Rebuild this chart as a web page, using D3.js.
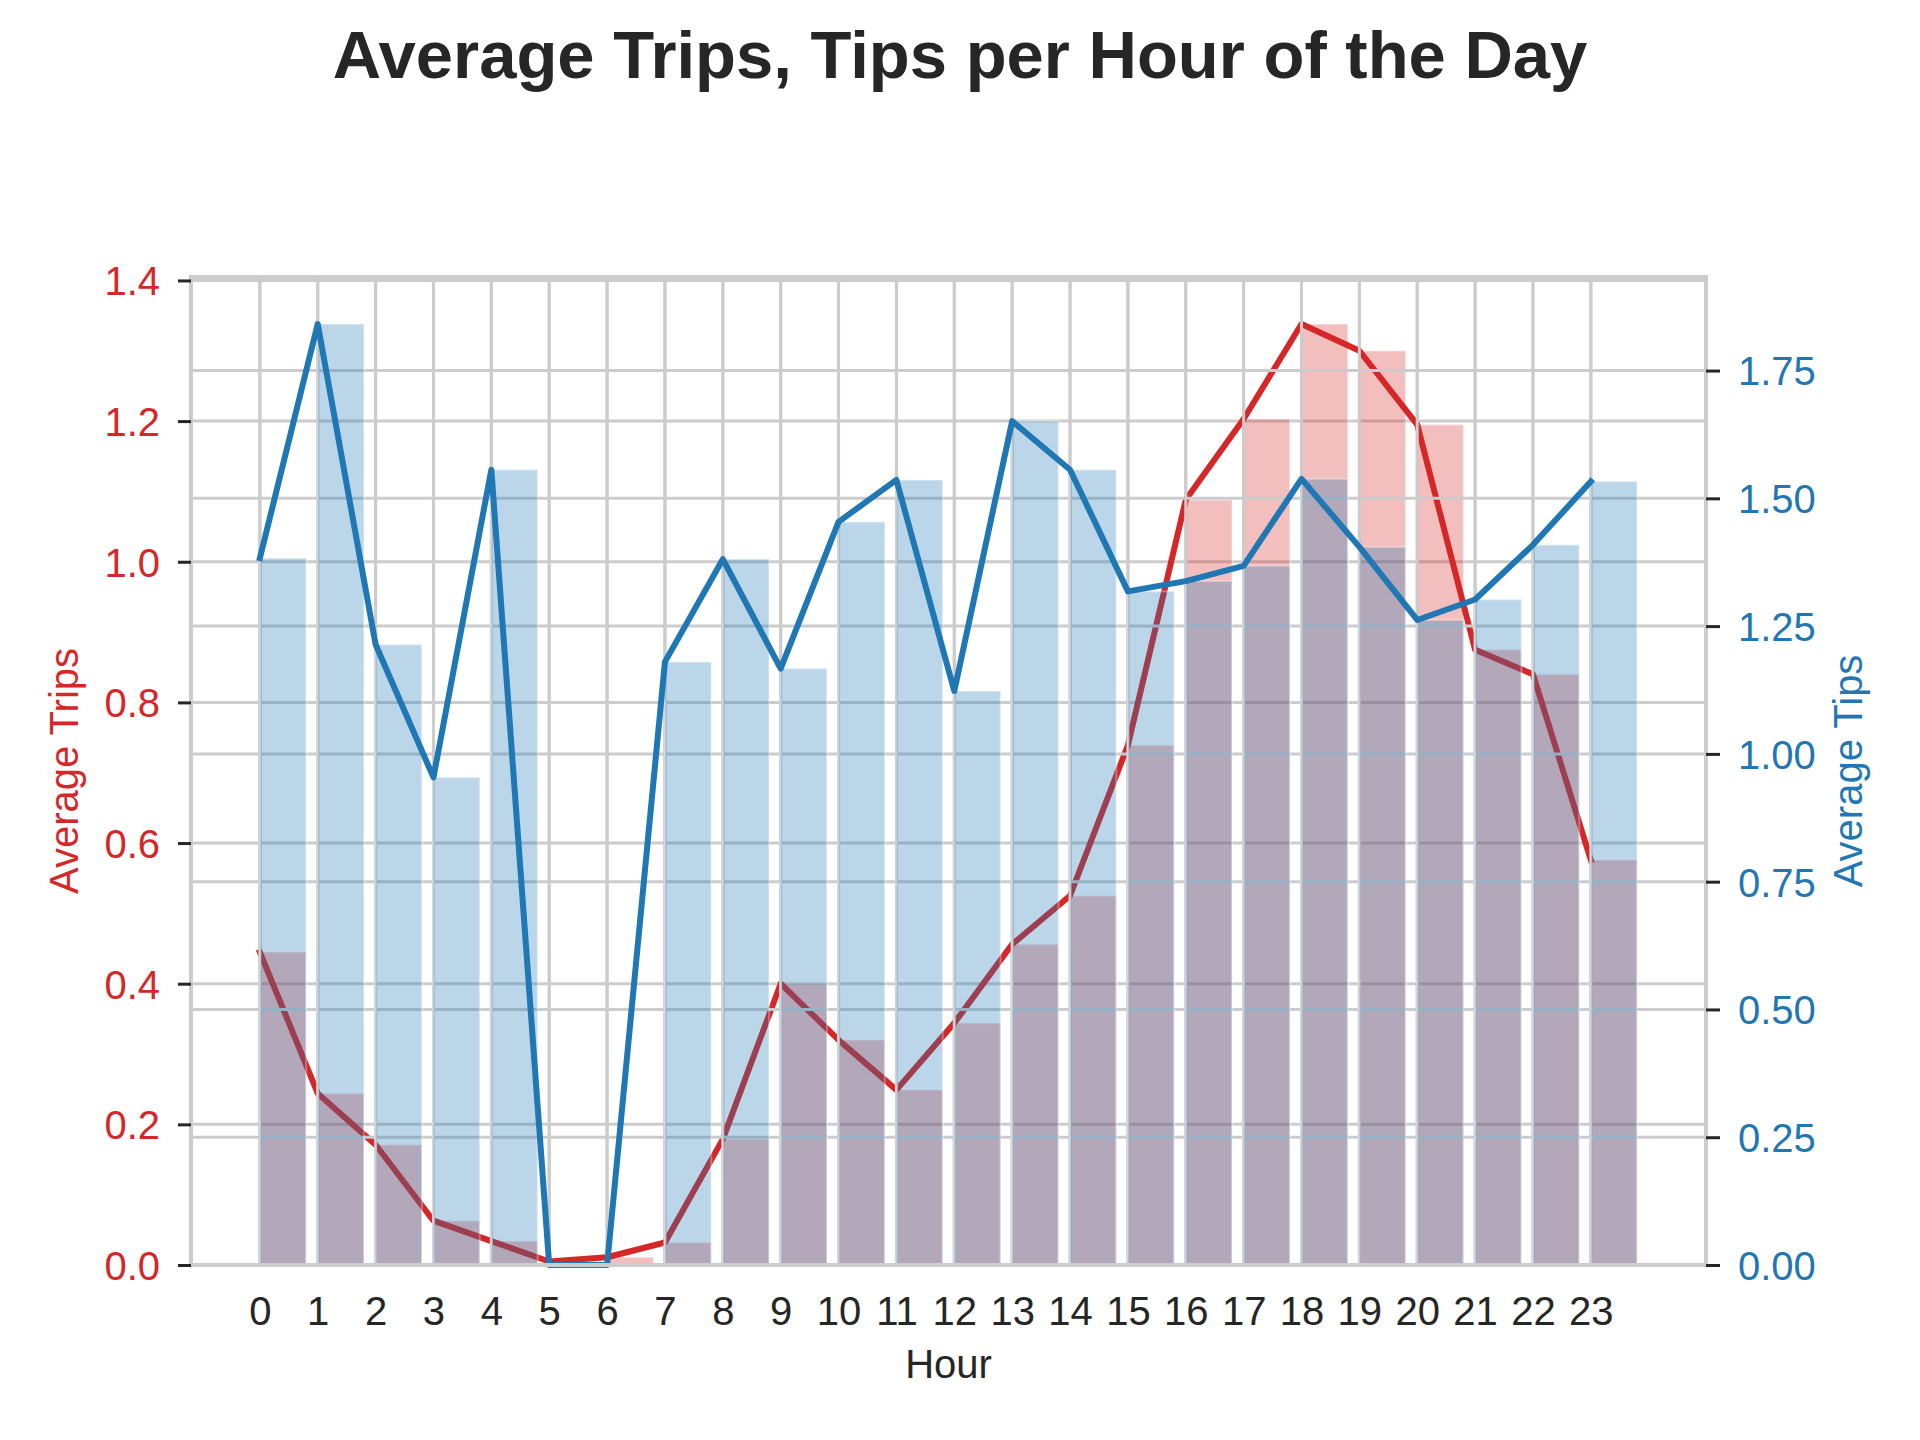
<!DOCTYPE html>
<html>
<head>
<meta charset="utf-8">
<title>Average Trips, Tips per Hour of the Day</title>
<script src="https://cdn.jsdelivr.net/npm/d3@7"></script>
<style>
    body { margin: 0; background: #fff; }
    svg { display: block; }
    text { font-family: "Liberation Sans", Arial, sans-serif; }
</style>
</head>
<body>
<svg id="drawing_region"></svg>
<script>
// hour of the day
const hours = [0, 1, 2, 3, 4, 5, 6, 7, 8, 9, 10, 11, 12, 13, 14, 15, 16, 17, 18, 19, 20, 21, 22, 23];

// average trips per hour (left axis)
const trips = [0.445, 0.244, 0.171, 0.063, 0.034, 0.005, 0.011, 0.032, 0.179, 0.400, 0.320, 0.249,
               0.344, 0.456, 0.525, 0.739, 1.088, 1.203, 1.338, 1.300, 1.195, 0.875, 0.840, 0.576];

// average tips per hour (right axis)
const tips = [1.383, 1.841, 1.214, 0.954, 1.556, 0, 0, 1.180, 1.381, 1.167, 1.454, 1.536,
              1.123, 1.651, 1.556, 1.318, 1.338, 1.368, 1.538, 1.405, 1.262, 1.302, 1.409, 1.533];

// tick labels
const tripTicks = [0.0, 0.2, 0.4, 0.6, 0.8, 1.0, 1.2, 1.4];
const tipTicks = [0.00, 0.25, 0.50, 0.75, 1.00, 1.25, 1.50, 1.75];

var config = {
    parent: '#drawing_region',
    width: 1920,
    height: 1440,
    margin: { left: 191, right: 214, top: 277, bottom: 175 },
    barWidth: 0.8,
};

class DualAxisChart {

    constructor( config ) {
        this.config = config;
        this.init();
    }

    init() {
        let self = this;
        const m = self.config.margin;

        self.inner_width = self.config.width - m.left - m.right;
        self.inner_height = self.config.height - m.top - m.bottom;

        self.svg = d3.select(self.config.parent)
            .attr('width', self.config.width)
            .attr('height', self.config.height);

        self.svg.append('rect')
            .attr('width', self.config.width)
            .attr('height', self.config.height)
            .attr('fill', '#fff');

        self.chart = self.svg.append('g')
            .attr('transform', `translate(${m.left}, ${m.top})`);

        // bars sit on the right of each tick (align='edge'), 5% margins like matplotlib
        const xmin = d3.min(hours), xmax = d3.max(hours) + self.config.barWidth;
        const pad = (xmax - xmin) * 0.05;
        self.xscale = d3.scaleLinear()
            .domain([xmin - pad, xmax + pad])
            .range([0, self.inner_width]);

        self.yleft = d3.scaleLinear()
            .domain([0, d3.max(trips) * 1.05])
            .range([self.inner_height, 0]);

        self.yright = d3.scaleLinear()
            .domain([0, d3.max(tips) * 1.05])
            .range([self.inner_height, 0]);
    }

    grid( g, yscale, yticks ) {
        let self = this;
        g.selectAll('.vgrid')
            .data(hours)
            .join('line')
            .attr('x1', d => self.xscale(d))
            .attr('x2', d => self.xscale(d))
            .attr('y1', 0)
            .attr('y2', self.inner_height)
            .attr('stroke', '#cccccc')
            .attr('stroke-width', 3);
        g.selectAll('.hgrid')
            .data(yticks)
            .join('line')
            .attr('x1', 0)
            .attr('x2', self.inner_width)
            .attr('y1', d => yscale(d))
            .attr('y2', d => yscale(d))
            .attr('stroke', '#cccccc')
            .attr('stroke-width', 3);
    }

    layer( g, values, yscale, color ) {
        let self = this;
        const bw = self.xscale(self.config.barWidth) - self.xscale(0);

        g.selectAll('rect')
            .data(values)
            .join('rect')
            .attr('x', (d, i) => self.xscale(hours[i]))
            .attr('y', d => yscale(d))
            .attr('width', bw)
            .attr('height', d => self.inner_height - yscale(d))
            .attr('fill', color)
            .attr('fill-opacity', 0.3)
            .attr('stroke', '#fff')
            .attr('stroke-opacity', 0.3)
            .attr('stroke-width', 2);

        const line = d3.line()
            .x((d, i) => self.xscale(hours[i]))
            .y(d => yscale(d));

        g.append('path')
            .datum(values)
            .attr('d', line)
            .attr('fill', 'none')
            .attr('stroke', color)
            .attr('stroke-width', 6)
            .attr('stroke-linejoin', 'round')
            .attr('stroke-linecap', 'square');
    }

    render() {
        let self = this;
        const red = '#d62728', blue = '#1f77b4', ink = '#262626';

        // first axes: trips
        self.grid(self.chart.append('g'), self.yleft, tripTicks);
        self.layer(self.chart.append('g'), trips, self.yleft, red);

        // twin axes: tips, drawn on top
        self.grid(self.chart.append('g'), self.yright, tipTicks);
        self.layer(self.chart.append('g'), tips, self.yright, blue);

        // spines
        self.chart.append('rect')
            .attr('width', self.inner_width)
            .attr('height', self.inner_height)
            .attr('fill', 'none')
            .attr('stroke', '#cccccc')
            .attr('stroke-width', 4);

        // axes
        const xaxis = self.chart.append('g')
            .attr('transform', `translate(0, ${self.inner_height})`)
            .call(d3.axisBottom(self.xscale).tickValues(hours).tickSize(0).tickPadding(32).tickFormat(d3.format('d')));

        const laxis = self.chart.append('g')
            .call(d3.axisLeft(self.yleft).tickValues(tripTicks).tickSize(13).tickPadding(18).tickFormat(d3.format('.1f')));

        const raxis = self.chart.append('g')
            .attr('transform', `translate(${self.inner_width}, 0)`)
            .call(d3.axisRight(self.yright).tickValues(tipTicks).tickSize(14).tickPadding(18).tickFormat(d3.format('.2f')));

        [xaxis, laxis, raxis].forEach(a => {
            a.select('.domain').remove();
            a.selectAll('text').attr('font-size', 40).attr('font-family', '"Liberation Sans", Arial, sans-serif');
            a.selectAll('line').attr('stroke', ink).attr('stroke-width', 3);
        });
        xaxis.selectAll('text').attr('fill', ink);
        laxis.selectAll('text').attr('fill', red).attr('dy', '0.36em');
        raxis.selectAll('text').attr('fill', blue).attr('dy', '0.36em');

        // labels
        self.svg.append('text')
            .attr('x', self.config.margin.left + self.inner_width / 2)
            .attr('y', 1378)
            .attr('text-anchor', 'middle')
            .attr('font-size', 40)
            .attr('fill', ink)
            .text('Hour');

        self.svg.append('text')
            .attr('transform', `translate(78, ${self.config.margin.top + self.inner_height / 2}) rotate(-90)`)
            .attr('text-anchor', 'middle')
            .attr('font-size', 40)
            .attr('fill', red)
            .text('Average Trips');

        self.svg.append('text')
            .attr('transform', `translate(1862, ${self.config.margin.top + self.inner_height / 2}) rotate(-90)`)
            .attr('text-anchor', 'middle')
            .attr('font-size', 40)
            .attr('fill', blue)
            .text('Average Tips');

        self.svg.append('text')
            .attr('x', self.config.width / 2)
            .attr('y', 78)
            .attr('text-anchor', 'middle')
            .attr('font-size', 67)
            .attr('font-weight', 'bold')
            .attr('fill', ink)
            .text('Average Trips, Tips per Hour of the Day');
    }
}

const chart = new DualAxisChart( config );
chart.render();
</script>
</body>
</html>
